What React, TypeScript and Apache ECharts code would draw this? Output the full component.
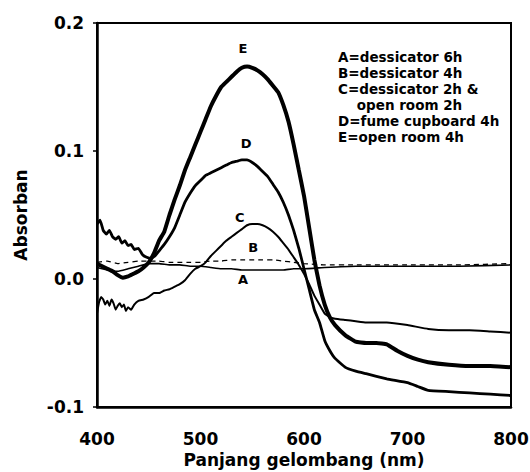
import React, { useEffect, useRef } from "react";
import * as echarts from "echarts";

// ---- data ----
const waveE = [400,405,410,415,420,425,430,435,440,445,450,455,460,465,470,475,480,485,490,495,500,505,510,515,520,525,530,535,540,545,550,555,560,565,570,575,580,585,590,595,600,605,610,615,620,625,630,640,650,660,670,680,690,700,710,720,740,760,780,800];
const absE = [0.012,0.010,0.008,0.006,0.003,0.001,0.002,0.004,0.006,0.009,0.013,0.020,0.030,0.037,0.050,0.062,0.073,0.085,0.095,0.105,0.115,0.125,0.135,0.143,0.150,0.154,0.158,0.162,0.165,0.166,0.165,0.163,0.160,0.156,0.151,0.146,0.136,0.123,0.105,0.085,0.065,0.040,0.015,-0.005,-0.020,-0.030,-0.036,-0.044,-0.049,-0.050,-0.050,-0.051,-0.056,-0.060,-0.063,-0.065,-0.067,-0.068,-0.068,-0.069];

const waveD = [400,403,406,409,412,415,418,421,424,427,430,433,436,440,444,448,452,456,460,465,470,475,480,485,490,495,500,505,510,515,520,525,530,535,540,545,550,555,560,565,570,575,580,585,590,595,600,605,610,615,620,625,630,640,650,660,680,700,710,720,740,760,780,800];
const absD = [0.043,0.046,0.038,0.035,0.038,0.033,0.031,0.033,0.028,0.030,0.026,0.027,0.023,0.024,0.019,0.017,0.016,0.018,0.022,0.027,0.033,0.040,0.050,0.060,0.067,0.073,0.077,0.081,0.083,0.085,0.087,0.089,0.091,0.092,0.093,0.093,0.091,0.088,0.084,0.080,0.074,0.068,0.060,0.050,0.038,0.024,0.008,-0.008,-0.024,-0.034,-0.048,-0.056,-0.062,-0.069,-0.072,-0.074,-0.078,-0.081,-0.084,-0.087,-0.088,-0.089,-0.090,-0.091];

const waveC = [400,402,404,406,408,410,412,414,416,418,420,422,424,426,428,430,433,436,440,445,450,455,460,465,470,475,480,485,490,495,500,505,510,515,520,525,530,535,540,545,550,555,560,565,570,575,580,585,590,595,600,605,610,615,620,625,630,640,650,660,680,700,720,740,760,780,800];
const absC = [-0.027,-0.018,-0.014,-0.016,-0.020,-0.017,-0.021,-0.016,-0.019,-0.024,-0.021,-0.019,-0.022,-0.020,-0.025,-0.022,-0.024,-0.020,-0.017,-0.016,-0.014,-0.011,-0.011,-0.009,-0.008,-0.006,-0.004,-0.001,0.004,0.008,0.010,0.013,0.018,0.022,0.026,0.030,0.033,0.036,0.039,0.042,0.043,0.043,0.042,0.040,0.037,0.033,0.028,0.023,0.017,0.011,0.004,-0.004,-0.013,-0.020,-0.027,-0.030,-0.031,-0.032,-0.033,-0.034,-0.034,-0.036,-0.039,-0.040,-0.040,-0.041,-0.042];

const waveA = [400,410,420,430,440,450,460,470,480,490,500,510,520,530,540,550,560,570,580,590,600,620,650,700,750,800];
const absA = [0.009,0.007,0.006,0.008,0.010,0.012,0.012,0.011,0.011,0.010,0.010,0.009,0.008,0.008,0.007,0.007,0.007,0.007,0.007,0.008,0.008,0.009,0.010,0.010,0.010,0.011];

const waveB = [400,410,420,430,440,450,460,470,480,490,500,510,520,530,540,550,560,570,580,590,600,620,650,700,750,800];
const absB = [0.013,0.014,0.012,0.013,0.014,0.014,0.014,0.013,0.013,0.013,0.013,0.014,0.014,0.015,0.015,0.015,0.015,0.015,0.014,0.013,0.012,0.011,0.011,0.011,0.011,0.012];

const curveNames = ["A", "B", "C", "D", "E"];
const curveLabelWave = [541, 551, 538, 544, 541];
const curveLabelAbs = [-0.0007, 0.0243, 0.0477, 0.106, 0.180];

const legendLines = [
  "A=dessicator 6h",
  "B=dessicator 4h",
  "C=dessicator 2h &",
  "    open room 2h",
  "D=fume cupboard 4h",
  "E=open room 4h",
];

const xTicks = { min: 400, max: 800, interval: 100 };
const yTicks = { min: -0.1, max: 0.2, interval: 0.1 };

const FONT = "DejaVu Sans";

function zip(w: number[], a: number[]) {
  return w.map((x, i) => [x, a[i]]);
}

export default function App() {
  const ref = useRef<HTMLDivElement>(null);
  useEffect(() => {
    document.body.style.margin = "0";
    const chart = echarts.init(ref.current!, undefined, { renderer: "svg" });
    const lineSeries = (name: string, data: number[][], width: number, type: any = "solid") => ({
      name,
      type: "line",
      data,
      showSymbol: false,
      symbol: "none",
      smooth: 0.1,
      lineStyle: { color: "#000", width, type },
      z: 3,
    });
    const legendGraphics = legendLines.map((t, i) => ({
      type: "text",
      left: 338,
      top: 50 + i * 16,
      style: {
        text: t,
        fontFamily: FONT,
        fontWeight: "bold",
        fontSize: 13.5,
        fill: "#000",
      },
    }));
    chart.setOption({
      animation: false,
      backgroundColor: "#fff",
      grid: {
        left: 97,
        right: 19,
        top: 23,
        bottom: 65,
        containLabel: false,
        outerBoundsMode: "none",
        show: true,
        borderColor: "#000",
        borderWidth: 2,
      },
      xAxis: {
        type: "value",
        min: xTicks.min,
        max: xTicks.max,
        interval: xTicks.interval,
        name: "Panjang gelombang (nm)",
        nameLocation: "middle",
        nameGap: 44,
        nameMoveOverlap: false,
        nameTextStyle: { fontFamily: FONT, fontWeight: "bold", fontSize: 17, color: "#000" },
        axisLine: { onZero: false, lineStyle: { color: "#000", width: 2.5 } },
        axisTick: { show: false },
        splitLine: { show: false },
        axisLabel: { fontFamily: FONT, fontWeight: "bold", fontSize: 17, color: "#000", margin: 23 },
      },
      yAxis: {
        type: "value",
        min: yTicks.min,
        max: yTicks.max,
        interval: yTicks.interval,
        name: "Absorban",
        nameLocation: "middle",
        nameGap: 68,
        nameMoveOverlap: false,
        nameRotate: 90,
        nameTextStyle: { fontFamily: FONT, fontWeight: "bold", fontSize: 17, color: "#000" },
        axisLine: { show: true, onZero: false, lineStyle: { color: "#000", width: 2.5 } },
        axisTick: { show: true, length: 4, lineStyle: { color: "#000", width: 1.5 } },
        splitLine: { show: false },
        axisLabel: {
          fontFamily: FONT,
          fontWeight: "bold",
          fontSize: 17,
          color: "#000",
          margin: 13,
          formatter: (v: number) => v.toFixed(1),
        },
      },
      series: [
        lineSeries("A", zip(waveA, absA), 1.6),
        lineSeries("B", zip(waveB, absB), 1.3, [5, 4]),
        lineSeries("C", zip(waveC, absC), 2.0),
        lineSeries("D", zip(waveD, absD), 2.8),
        lineSeries("E", zip(waveE, absE), 4),
      ],
      graphic: legendGraphics,
    });
    // curve letters placed through the grid's coordinate system
    const labelGraphics = curveNames.map((n, i) => {
      const p = chart.convertToPixel({ gridIndex: 0 }, [curveLabelWave[i], curveLabelAbs[i]]) as number[];
      return {
        type: "text",
        x: p[0],
        y: p[1],
        style: {
          text: n,
          fontFamily: FONT,
          fontWeight: "bold",
          fontSize: 13,
          fill: "#000",
          align: "center",
          verticalAlign: "middle",
        },
        z: 10,
      };
    });
    chart.setOption({ graphic: [...legendGraphics, ...labelGraphics] });
    return () => chart.dispose();
  }, []);
  return <div ref={ref} style={{ width: 530, height: 472 }} />;
}
